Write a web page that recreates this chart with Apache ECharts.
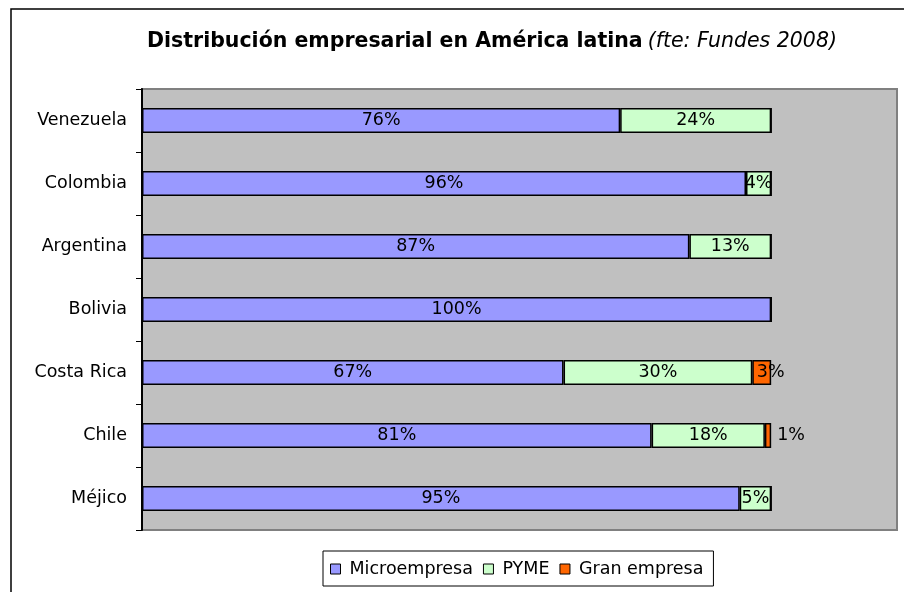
<!DOCTYPE html>
<html>
<head>
<meta charset="utf-8">
<script src="https://cdn.jsdelivr.net/npm/echarts@6/dist/echarts.min.js"></script>
<style>
  html, body { margin: 0; padding: 0; background: #fff; }
  #chart { width: 904px; height: 592px; }
</style>
</head>
<body>
<div id="chart"></div>
<script>
// paises de arriba hacia abajo
const paises = ["Venezuela", "Colombia", "Argentina", "Bolivia", "Costa Rica", "Chile", "Méjico"];
const microempresa = [76, 96, 87, 100, 67, 81, 95];
const pyme = [24, 4, 13, 0, 30, 18, 5];
const granEmpresa = [0, 0, 0, 0, 3, 1, 0];

const myChart = echarts.init(document.getElementById("chart"));

const fuente = "DejaVu Sans, Liberation Sans, sans-serif";
const tam = 17.5;

function etiqueta(p) {
  return p.value ? p.value + "%" : "";
}

function serie(nombre, datos, color) {
  return {
    name: nombre,
    type: "bar",
    stack: "total",
    barWidth: 25,
    data: datos,
    itemStyle: {
      color: color,
      borderColor: "#000",
      borderWidth: 1.5
    },
    label: {
      show: true,
      position: "inside",
      color: "#000",
      fontFamily: fuente,
      fontSize: tam,
      formatter: etiqueta
    }
  };
}

const serieGran = serie("Gran empresa", granEmpresa.map(function(v, i) {
  if (paises[i] === "Chile") {
    return { value: v, label: { position: "right", distance: 6 } };
  }
  if (paises[i] === "Costa Rica") {
    return { value: v, label: { offset: [9, 0] } };
  }
  return v;
}), "#FF6600");

const option = {
  backgroundColor: "#fff",
  animation: false,
  title: {
    text: "{b|Distribución empresarial en América latina} {i|(fte: Fundes 2008)}",
    left: 142,
    top: 26,
    textStyle: {
      rich: {
        b: { fontFamily: fuente, fontSize: 20.5, fontWeight: "bold", color: "#000" },
        i: { fontFamily: fuente, fontSize: 20.5, fontWeight: "normal", fontStyle: "italic", color: "#000" }
      }
    }
  },
  graphic: [
    {
      type: "rect",
      shape: { x: 11, y: 9, width: 1000, height: 700 },
      style: { fill: "none", stroke: "#000", lineWidth: 1.5 },
      silent: true,
      z: -1
    }
  ],
  legend: {
    left: 323,
    top: 551,
    padding: [9, 10, 8, 7],
    itemGap: 10,
    itemWidth: 10,
    itemHeight: 10,
    borderColor: "#000",
    borderWidth: 1,
    backgroundColor: "#fff",
    icon: "rect",
    itemStyle: { borderColor: "#000", borderWidth: 1 },
    textStyle: { fontFamily: fuente, fontSize: 17.5, color: "#000", padding: [0, 0, 0, 4] },
    data: ["Microempresa", "PYME", "Gran empresa"]
  },
  grid: {
    left: 142,
    top: 89,
    right: 7,
    bottom: 62,
    show: true,
    backgroundColor: "#C0C0C0",
    borderColor: "#808080",
    borderWidth: 2
  },
  xAxis: {
    type: "value",
    min: 0,
    max: 120,
    show: false
  },
  yAxis: {
    type: "category",
    inverse: true,
    data: paises,
    axisLine: { lineStyle: { color: "#000", width: 2 } },
    axisTick: { show: true, length: 6, lineStyle: { color: "#000", width: 1 } },
    axisLabel: { fontFamily: fuente, fontSize: tam, color: "#000", margin: 15 }
  },
  series: [
    serie("Microempresa", microempresa, "#9999FF"),
    serie("PYME", pyme, "#CCFFCC"),
    serieGran
  ]
};

myChart.setOption(option);
window.addEventListener("resize", function() { myChart.resize(); });
</script>
</body>
</html>
